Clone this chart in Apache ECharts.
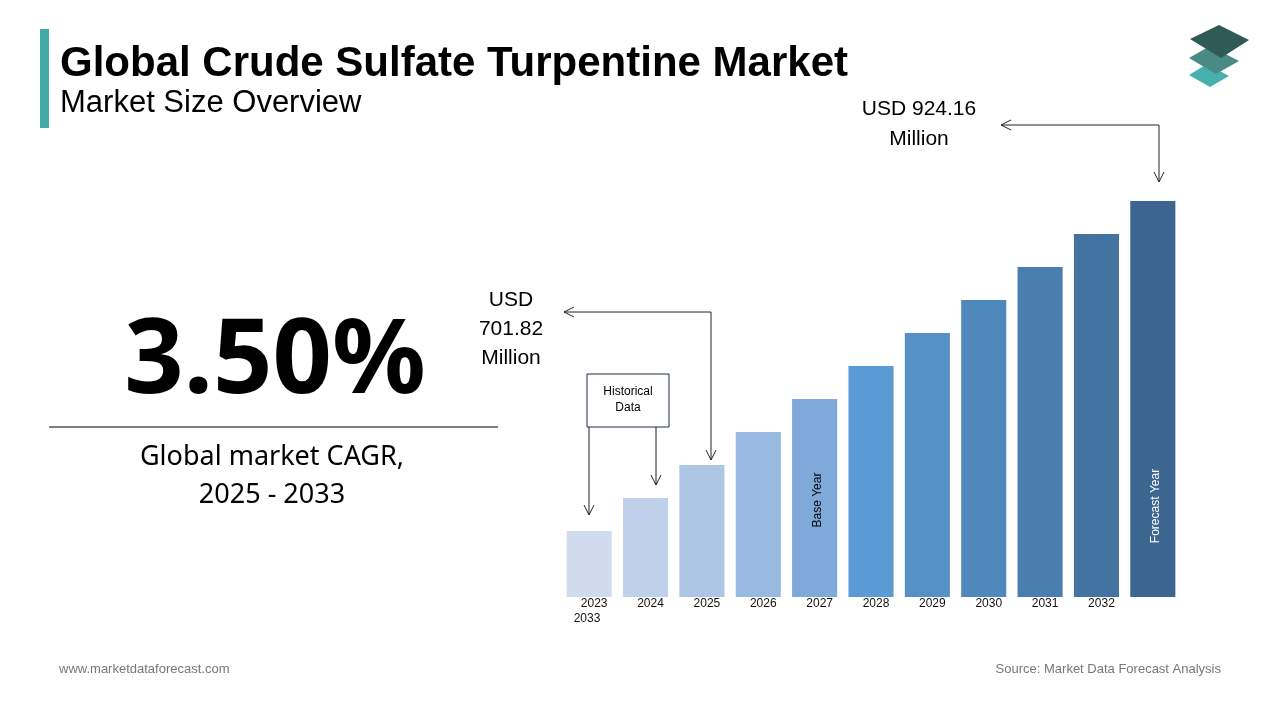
<!DOCTYPE html><html><head><meta charset="utf-8"><script src="https://cdn.jsdelivr.net/npm/echarts@6/dist/echarts.min.js"></script>
<style>html,body{margin:0;background:#fff}#c{width:1280px;height:720px}</style></head><body><div id="c"></div><script>
const categories=['2023','2024','2025','2026','2027','2028','2029','2030','2031','2032','2033'];
const tickLabels=['2023','2024','2025','2026','2027','2028','2029','2030','2031','2032',''];
const values=[2,3,4,5,6,7,8,9,10,11,12];
const colors=['#d0dcee','#bed0ea','#adc6e6','#98b9e0','#7ea9d9','#5b9bd5','#5591c7','#4f88bb','#4a7eae','#4374a1','#3c6690'];
const ch=echarts.init(document.getElementById('c'));
const ff='Liberation Sans, Arial, sans-serif';
const L='#222';
function line(pts){return {type:'polyline',z:50,shape:{points:pts},style:{stroke:L,lineWidth:1,fill:null}};}
function head(x,y){return line([[x-5,y-10],[x,y],[x+5,y-10]]);}
function headL(x,y){return line([[x+10,y-5],[x,y],[x+10,y+5]]);}
ch.setOption({
animation:false,
grid:{left:561,right:99,top:201,bottom:123},
xAxis:{type:'category',data:categories,axisLine:{show:false},axisTick:{show:false},
 axisLabel:{formatter:(v,i)=>tickLabels[i],color:'#111',fontSize:12,fontFamily:ff,margin:1,padding:[0,0,0,10]}},
yAxis:{type:'value',min:0,max:12,show:false},
series:[{type:'bar',barCategoryGap:'20%',data:values.map((v,i)=>({value:v,itemStyle:{color:colors[i]}}))}],
graphic:[
{type:'rect',shape:{x:40,y:29,width:9,height:99},style:{fill:'#45aaa6'}},
{type:'text',left:60,top:43,style:{text:'Global Crude Sulfate Turpentine Market',font:'bold 42px '+ff,fill:'#000'}},
{type:'text',left:60,top:88,style:{text:'Market Size Overview',font:'31px '+ff,fill:'#000'}},
{type:'text',x:275,y:363,style:{text:'3.50%',font:'bold 104px Noto Sans, sans-serif',fill:'#000',align:'center',verticalAlign:'middle'}},
{type:'line',shape:{x1:49,y1:427,x2:498,y2:427},style:{stroke:'#000',lineWidth:1}},
{type:'text',x:272,y:476,style:{text:'Global market CAGR,\n2025 - 2033',font:'27px Noto Sans, sans-serif',fill:'#000',align:'center',verticalAlign:'middle',lineHeight:38}},
{type:'text',left:59,top:663,style:{text:'www.marketdataforecast.com',font:'13px '+ff,fill:'#777'}},
{type:'text',right:59,top:663,style:{text:'Source: Market Data Forecast Analysis',font:'13px '+ff,fill:'#777'}},
{type:'polygon',shape:{points:[[1189,75],[1207,64],[1229,76],[1210,87]]},style:{fill:'#45b0ac'}},
{type:'polygon',shape:{points:[[1189,58],[1210,46],[1239,61],[1216,74]]},style:{fill:'#4a8a85'}},
{type:'polygon',shape:{points:[[1190,39],[1219,25],[1249,40],[1221,58]]},style:{fill:'#2f5a55'}},
{type:'text',x:919,y:124,style:{text:'USD 924.16\nMillion',font:'21px '+ff,fill:'#000',align:'center',verticalAlign:'middle',lineHeight:30}},
line([[1001,125],[1159,125],[1159,182]]),headL(1001,125),head(1159,182),
{type:'text',x:511,y:329,style:{text:'USD\n701.82\nMillion',font:'21px '+ff,fill:'#000',align:'center',verticalAlign:'middle',lineHeight:29}},
line([[564,312],[711,312],[711,460]]),headL(564,312),head(711,460),
{type:'rect',z:50,shape:{x:587,y:374,width:82,height:53},style:{fill:'#fff',stroke:'#1f2d4a',lineWidth:1}},
{type:'text',z:51,x:628,y:400,style:{text:'Historical\nData',font:'12px '+ff,fill:'#000',align:'center',verticalAlign:'middle',lineHeight:16}},
line([[589,427],[589,515]]),head(589,515),
line([[656,427],[656,485]]),head(656,485),
{type:'text',z:100,x:818,y:500,rotation:Math.PI/2,style:{text:'Base Year',font:'12px '+ff,fill:'#000',align:'center',verticalAlign:'middle'}},
{type:'text',z:100,x:1156,y:506,rotation:Math.PI/2,style:{text:'Forecast Year',font:'12px '+ff,fill:'#fff',align:'center',verticalAlign:'middle'}},
{type:'text',x:587,y:619,style:{text:'2033',font:'12px '+ff,fill:'#111',align:'center',verticalAlign:'middle'}}
]});
</script></body></html>
